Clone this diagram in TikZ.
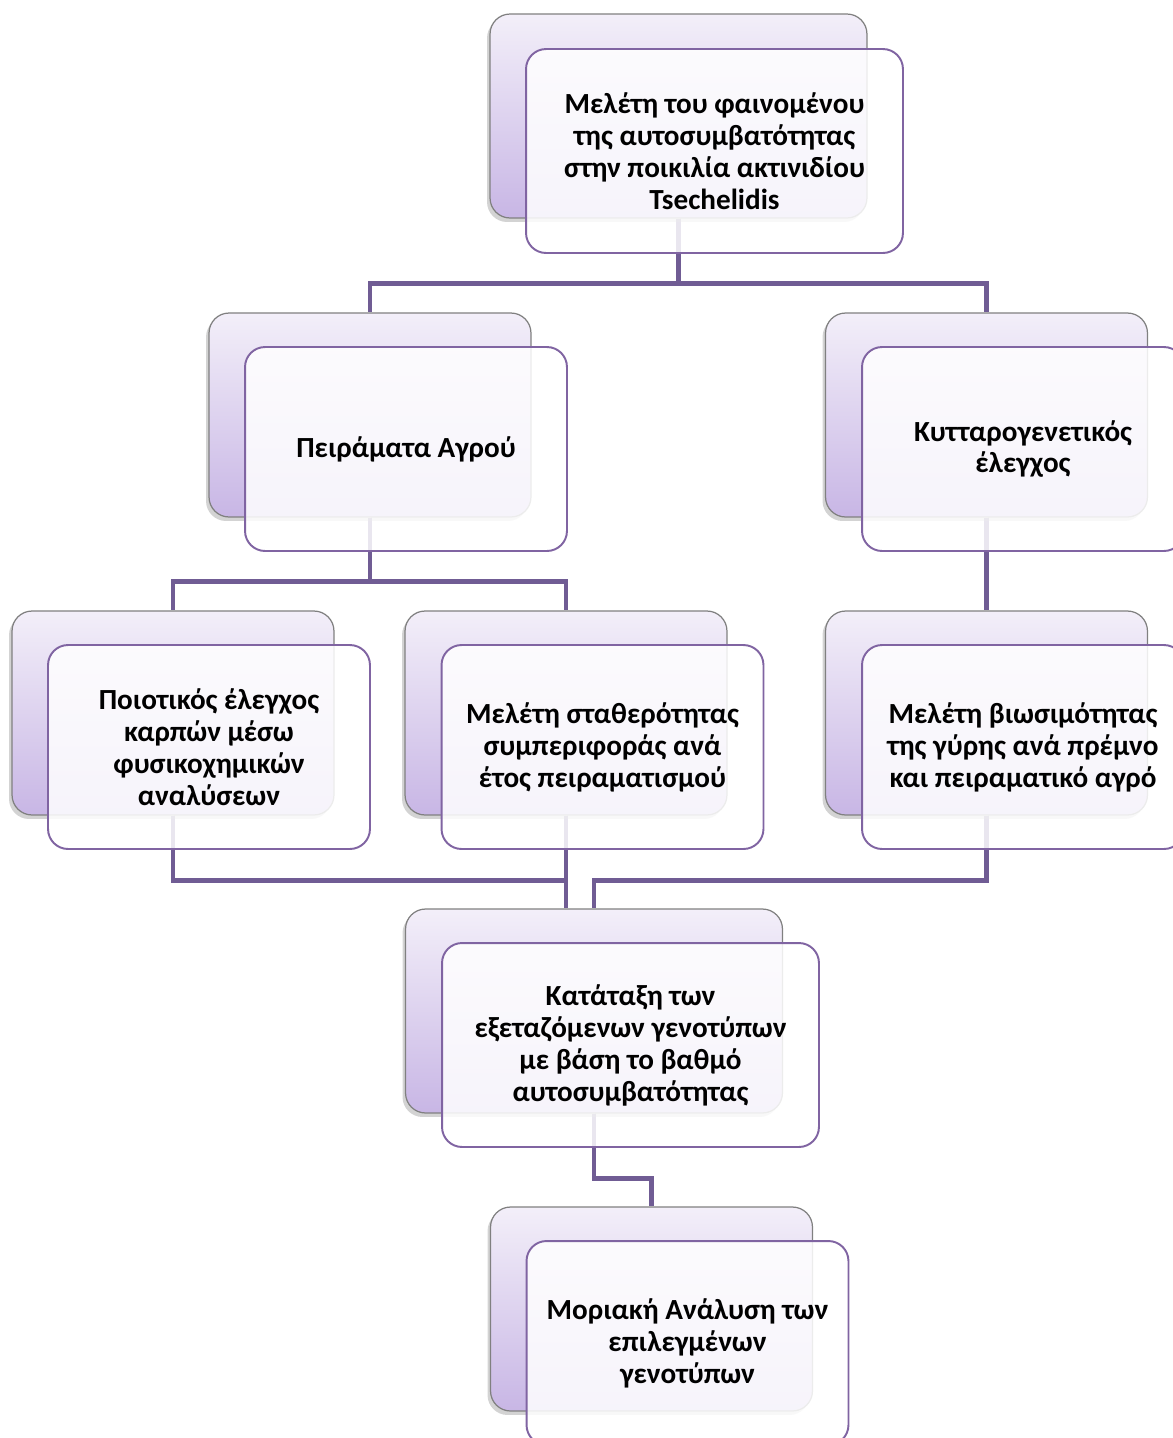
\documentclass[tikz,border=0pt]{standalone}
\usepackage{fontspec}
\setmainfont{Carlito}[BoldFont={Carlito Bold}]
\usetikzlibrary{shadows}
\definecolor{lavtop}{RGB}{243,239,249}
\definecolor{lavbot}{RGB}{200,182,229}
\definecolor{boxviolet}{RGB}{128,100,162}
\definecolor{linkviolet}{RGB}{112,92,148}
\pgfdeclarelayer{background}
\pgfsetlayers{background,main}

\begin{document}
\begin{tikzpicture}[x=0.02cm,y=-0.02cm,
back/.style={rectangle,rounded corners=0.4cm,minimum width=6.44cm,minimum height=4.08cm,
  top color=lavtop,bottom color=lavbot,draw=black!50,line width=0.7pt,
  drop shadow={shadow xshift=-0.6mm,shadow yshift=-0.8mm,opacity=.35}},
front/.style={rectangle,rounded corners=0.4cm,minimum width=6.44cm,minimum height=4.08cm,
  draw=boxviolet,line width=1.1pt,fill=white,fill opacity=.85,text opacity=1,
  align=center,font=\bfseries\fontsize{16.6}{18.2}\selectfont},
wide/.style={minimum width=7.54cm},
link/.style={draw=linkviolet,line width=2.8pt}]
\clip (0,0) rectangle (1173,1438);
% Κορυφή
\node[back,wide] (b1) at (678.5,116) {};
\node[front,wide] (f1) at (714.5,151) {Μελέτη του φαινομένου\\της αυτοσυμβατότητας\\στην ποικιλία ακτινιδίου\\Tsechelidis};
% Δεύτερο επίπεδο
\node[back] (b2) at (370,415) {};
\node[front] (f2) at (406,449) {Πειράματα Αγρού};
\node[back] (b3) at (986.5,415) {};
\node[front] (f3) at (1023,449) {Κυτταρογενετικός\\έλεγχος};
% Τρίτο επίπεδο
\node[back] (b4) at (173,713) {};
\node[front] (f4) at (209,747) {Ποιοτικός έλεγχος\\καρπών μέσω\\φυσικοχημικών\\αναλύσεων};
\node[back] (b5) at (566,713) {};
\node[front] (f5) at (602.5,747) {Μελέτη σταθερότητας\\συμπεριφοράς ανά\\έτος πειραματισμού};
\node[back] (b6) at (986.5,713) {};
\node[front] (f6) at (1023,747) {Μελέτη βιωσιμότητας\\της γύρης ανά πρέμνο\\και πειραματικό αγρό};
% Κατάταξη και μοριακή ανάλυση
\node[back,wide] (b7) at (594,1011) {};
\node[front,wide] (f7) at (630.5,1045) {Κατάταξη των\\εξεταζόμενων γενοτύπων\\με βάση το βαθμό\\αυτοσυμβατότητας};
\node[back] (b8) at (651.5,1309) {};
\node[front] (f8) at (687.5,1343) {Μοριακή Ανάλυση των\\επιλεγμένων\\γενοτύπων};
% Συνδέσεις
\begin{pgfonlayer}{background}
\draw[link] (b1.south) -- ++(0,65) -| (b2.north);
\draw[link] (b1.south) -- ++(0,65) -| (b3.north);
\draw[link] (b2.south) -- ++(0,64) -| (b4.north);
\draw[link] (b2.south) -- ++(0,64) -| (b5.north);
\draw[link] (b3.south) -- (b6.north);
\draw[link] (b4.south) -- ++(0,65) -| (b5.south |- b7.north);
\draw[link] (b5.south) -- (b5.south |- b7.north);
\draw[link] (b6.south) -- ++(0,65) -| (b7.north);
\draw[link] (b7.south) -- ++(0,65) -| (b8.north);
\end{pgfonlayer}
\end{tikzpicture}
\end{document}
